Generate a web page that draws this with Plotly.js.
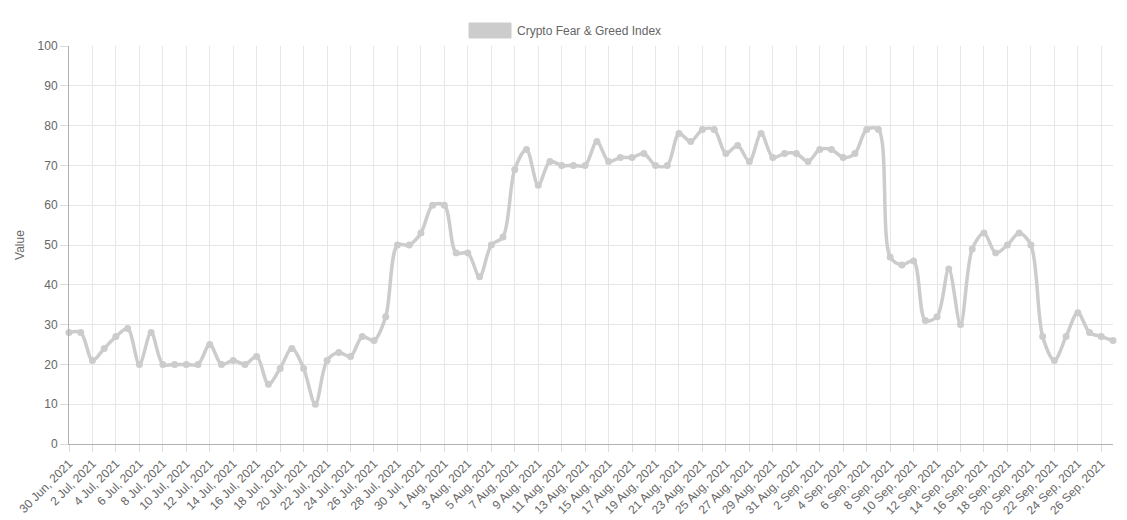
<!DOCTYPE html>
<html>
<head>
<meta charset="utf-8">
<script src="https://cdn.plot.ly/plotly-3.0.1.min.js"></script>
<style>
html,body{margin:0;padding:0;background:#fff;}
#chart{width:1127px;height:520px;}
</style>
</head>
<body>
<div id="chart"></div>
<script>
const seriesName = "Crypto Fear & Greed Index";
const startDate = "2021-06-30";
const values = [
  28,28,21,24,27,29,20,28,20,20,20,20,25,20,21,20,22,15,19,24,19,10,21,23,22,27,26,
  32,
  50,50,53,60,60,48,48,42,50,52,69,74,65,71,70,70,70,76,71,72,72,73,70,70,78,76,79,79,73,75,71,
  78,72,73,73,71,74,74,72,73,79,79,47,45,46,31,32,44,30,49,53,48,50,53,50,27,21,27,33,28,27,26
];
const monthNames = ["Jan","Feb","Mar","Apr","May","Jun","Jul","Aug","Sep","Oct","Nov","Dec"];

function makeLabels(start, n){
  const out = [];
  const d0 = new Date(start + "T00:00:00Z");
  for (let i = 0; i < n; i++){
    const d = new Date(d0.getTime() + i*86400000);
    out.push(d.getUTCDate() + " " + monthNames[d.getUTCMonth()] + ", " + d.getUTCFullYear());
  }
  return out;
}
const categories = makeLabels(startDate, values.length);
const tickIdx = categories.map((c,i)=>i).filter(i=>i%2===0);

const lineColor = "rgb(204,204,204)";
const trace = {
  x: categories.map((c,i)=>i),
  y: values,
  type: "scatter",
  mode: "lines+markers",
  name: seriesName,
  line: {color: lineColor, width: 3.5, shape: "spline", smoothing: 0.9},
  marker: {color: lineColor, size: 7},
  cliponaxis: false,
  showlegend: false,
  hovertemplate: "%{text}: %{y}<extra></extra>",
  text: categories
};

const font = {family: "Liberation Sans, Arial, Helvetica, sans-serif", size: 12, color: "#666"};
const layout = {
  width: 1127, height: 520,
  margin: {l: 69, r: 14, t: 46, b: 76, pad: 0},
  paper_bgcolor: "#fff", plot_bgcolor: "#fff",
  font: font,
  showlegend: false,
  xaxis: {
    range: [0, values.length-1],
    tickmode: "array",
    tickvals: tickIdx,
    ticktext: tickIdx.map(i=>categories[i]),
    tickangle: -45,
    showgrid: true, gridcolor: "#e6e6e6", gridwidth: 1,
    showline: true, linecolor: "#b0b0b0", linewidth: 1,
    ticks: "outside", ticklen: 7, tickcolor: "#dcdcdc",
    zeroline: false,
    tickfont: font,
    automargin: false
  },
  yaxis: {
    range: [0, 100],
    dtick: 10,
    showgrid: true, gridcolor: "#e6e6e6", gridwidth: 1,
    showline: true, linecolor: "#b0b0b0", linewidth: 1,
    ticks: "outside", ticklen: 8, tickcolor: "#dcdcdc",
    zeroline: false,
    tickfont: font,
    title: {text: "Value", font: font, standoff: 10},
    automargin: false
  },
  shapes: [{
    type: "rect", xref: "paper", yref: "paper",
    x0: (469-69)/1044, x1: (511-69)/1044,
    y0: (444-38)/398, y1: (444-23)/398,
    fillcolor: "rgba(204,204,204,1)", line: {color: "rgba(204,204,204,1)", width: 1}
  }],
  annotations: [{
    xref: "paper", yref: "paper",
    x: (515-69)/1044, y: (444-30.5)/398,
    xanchor: "left", yanchor: "middle",
    text: seriesName, showarrow: false,
    font: font
  }]
};

Plotly.newPlot("chart", [trace], layout, {displayModeBar: false, staticPlot: true});
</script>
</body>
</html>
